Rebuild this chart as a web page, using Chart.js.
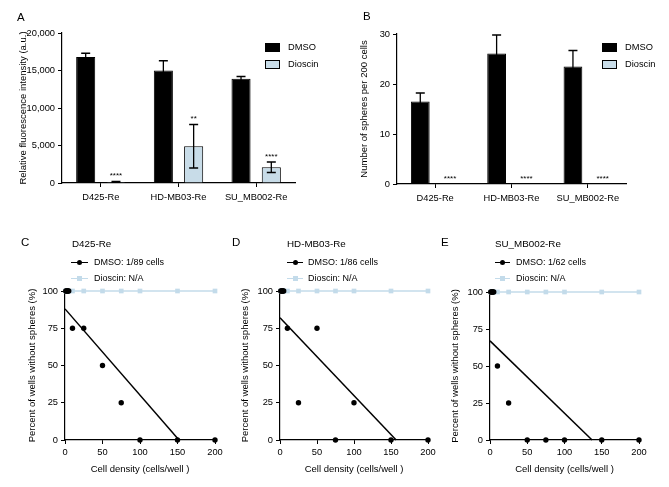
<!DOCTYPE html>
<html><head><meta charset="utf-8">
<script src="https://cdn.jsdelivr.net/npm/chart.js@4.4.0/dist/chart.umd.min.js"></script>
<style>
html,body{margin:0;padding:0;background:#fff;}
#wrap{position:relative;width:669px;height:487px;overflow:hidden;font-family:'Liberation Sans',Arial,sans-serif;color:#000;}
canvas{position:absolute;left:0;top:0;}
.t{position:absolute;white-space:nowrap;line-height:1;}
.box{position:absolute;width:15px;height:9px;border:1px solid #000;box-sizing:border-box;}
.ln{position:absolute;height:0;}
.dot{position:absolute;width:5px;height:5px;border-radius:50%;background:#000;}
.sq{position:absolute;width:5px;height:5px;}
</style></head><body><div id="wrap">
<canvas id="cA" width="669" height="487"></canvas>
<canvas id="cB" width="669" height="487"></canvas>
<canvas id="cC" width="669" height="487"></canvas>
<canvas id="cD" width="669" height="487"></canvas>
<canvas id="cE" width="669" height="487"></canvas>
</div>
<script>
// ---------- data ----------
const barCategories = ['D425-Re', 'HD-MB03-Re', 'SU_MB002-Re'];
const seriesNames = ['DMSO', 'Dioscin'];
const fluorDMSO = [16800, 15000, 13900];
const fluorDMSOErr = [500, 1300, 300];
const fluorDioscin = [150, 4900, 2100];
const fluorDioscinErr = [60, 2900, 700];
const fluorStars = ['****', '**', '****'];
const fluorTicks = [0, 5000, 10000, 15000, 20000];

const spheresDMSO = [16.5, 26.1, 23.5];
const spheresDMSOErr = [1.7, 3.7, 3.2];
const spheresDioscin = [0, 0, 0];
const spheresDioscinErr = [0, 0, 0];
const spheresStars = ['****', '****', '****'];
const spheresTicks = [0, 10, 20, 30];

const cellDensity = [1, 2, 3, 4, 5, 10, 25, 50, 75, 100, 150, 200];
const dmsoD425 = [100, 100, 100, 100, 100, 75, 75, 50, 25, 0, 0, 0];
const dmsoHDMB03 = [100, 100, 100, 100, 100, 75, 25, 75, 0, 25, 0, 0];
const dmsoSUMB002 = [100, 100, 100, 100, 100, 50, 25, 0, 0, 0, 0, 0];
const dioscinPct = [100, 100, 100, 100, 100, 100, 100, 100, 100, 100, 100, 100];
const fitD425 = [[0, 88], [152, 0]];
const fitHDMB03 = [[0, 82], [157, 0]];
const fitSUMB002 = [[0, 67], [137, 0]];
const densityTicks = [0, 50, 100, 150, 200];
const pctTicks = [0, 25, 50, 75, 100];

// ---------- styles ----------
const FONT = "'Liberation Sans', Arial, sans-serif";
const DIO_FILL = '#c8dce8';
const DIO_LINE = '#c3dbea';
Chart.defaults.font.family = FONT;
Chart.defaults.color = '#000';
const W = 669, H = 487;
const TICK_FS = 9.3, TITLE_FS = 9.5;

const errorPlugin = {
  id: 'errbars',
  afterDatasetsDraw(chart) {
    const ctx = chart.ctx, ys = chart.scales.y;
    chart.data.datasets.forEach((ds, di) => {
      if (!ds.errors) return;
      const meta = chart.getDatasetMeta(di);
      meta.data.forEach((bar, i) => {
        const v = ds.data[i], e = ds.errors[i], x = bar.x;
        const yt = ys.getPixelForValue(v + e), yb = ys.getPixelForValue(Math.max(v - e, 0));
        ctx.save();
        ctx.strokeStyle = '#000'; ctx.lineWidth = 1.3;
        if (e > 0) {
          ctx.beginPath();
          ctx.moveTo(x, yt); ctx.lineTo(x, yb);
          ctx.moveTo(x - 4.5, yt); ctx.lineTo(x + 4.5, yt);
          ctx.moveTo(x - 4.5, yb); ctx.lineTo(x + 4.5, yb);
          ctx.stroke();
        }
        if (ds.stars) {
          ctx.fillStyle = '#000';
          ctx.font = '8px ' + FONT;
          ctx.textAlign = 'center'; ctx.textBaseline = 'alphabetic';
          ctx.fillText(ds.stars[i], x, yt - 3.4);
        }
        ctx.restore();
      });
    });
  }
};

function barChart(id, dmso, dmsoErr, dio, dioErr, stars, ticks, yTitle, area, titleX) {
  const lh = TITLE_FS * 1.2;
  const padLeft = titleX - lh / 2 - 1;
  const xH = 22;
  new Chart(document.getElementById(id), {
    type: 'bar',
    data: {
      labels: barCategories,
      datasets: [
        { label: seriesNames[0], data: dmso, errors: dmsoErr, backgroundColor: '#000', borderColor: '#000', borderWidth: 1, categoryPercentage: 0.78, barPercentage: 0.63 },
        { label: seriesNames[1], data: dio, errors: dioErr, stars: stars, backgroundColor: DIO_FILL, borderColor: '#000', borderWidth: 1, categoryPercentage: 0.78, barPercentage: 0.63 }
      ]
    },
    options: {
      responsive: false, animation: false, events: [],
      layout: { padding: { left: padLeft, top: area.top, right: W - area.right, bottom: H - area.bottom - xH } },
      plugins: { legend: { display: false }, tooltip: { enabled: false } },
      scales: {
        x: {
          offset: true,
          grid: { display: true, drawOnChartArea: false, drawTicks: true, tickLength: 4, offset: false, color: '#000', lineWidth: 1 },
          border: { display: true, color: '#000', width: 1.2 },
          ticks: { font: { size: TICK_FS }, color: '#000', padding: 5, maxRotation: 0, autoSkip: false },
          afterFit(s) { s.height = xH; }
        },
        y: {
          min: ticks[0], max: ticks[ticks.length - 1],
          afterBuildTicks(s) { s.ticks = ticks.map(v => ({ value: v })); },
          grid: { display: true, drawOnChartArea: false, drawTicks: true, tickLength: 4, color: '#000', lineWidth: 1 },
          border: { display: true, color: '#000', width: 1.2 },
          ticks: { font: { size: TICK_FS }, color: '#000', padding: 3 },
          title: { display: true, text: yTitle, font: { size: TITLE_FS }, color: '#000', padding: { top: 1, bottom: 0 } },
          afterFit(s) { s.width = area.left - padLeft; }
        }
      }
    },
    plugins: [errorPlugin]
  });
}

function ldaChart(id, dmso, fit, area, titleX) {
  const lh = TITLE_FS * 1.2;
  const padLeft = titleX - lh / 2 - 1;
  const xH = 35;
  new Chart(document.getElementById(id), {
    type: 'scatter',
    data: {
      datasets: [
        { label: 'DMSO', data: cellDensity.map((x, i) => ({ x: x, y: dmso[i] })), showLine: false, pointRadius: 2.7, pointBackgroundColor: '#000', pointBorderColor: '#000', pointBorderWidth: 0, clip: false },
        { label: 'Dioscin', data: cellDensity.map((x, i) => ({ x: x, y: dioscinPct[i] })), showLine: true, borderColor: DIO_LINE, borderWidth: 1.3, pointStyle: 'rect', pointRadius: 3.3, pointBackgroundColor: DIO_LINE, pointBorderWidth: 0, clip: false },
        { label: 'fit', data: fit.map(p => ({ x: p[0], y: p[1] })), showLine: true, borderColor: '#000', borderWidth: 1.5, pointRadius: 0, clip: false }
      ]
    },
    options: {
      responsive: false, animation: false, events: [],
      layout: { padding: { left: padLeft, top: area.top, right: W - area.right, bottom: H - area.bottom - xH } },
      plugins: { legend: { display: false }, tooltip: { enabled: false } },
      scales: {
        x: {
          type: 'linear', min: densityTicks[0], max: densityTicks[densityTicks.length - 1],
          afterBuildTicks(s) { s.ticks = densityTicks.map(v => ({ value: v })); },
          grid: { display: true, drawOnChartArea: false, drawTicks: true, tickLength: 4, color: '#000', lineWidth: 1 },
          border: { display: true, color: '#000', width: 1.2 },
          ticks: { font: { size: TICK_FS }, color: '#000', padding: 3, maxRotation: 0 },
          title: { display: true, text: 'Cell density (cells/well )', font: { size: TITLE_FS }, color: '#000', padding: { top: 0, bottom: 0 } },
          afterFit(s) { s.height = xH; }
        },
        y: {
          type: 'linear', min: pctTicks[0], max: pctTicks[pctTicks.length - 1],
          afterBuildTicks(s) { s.ticks = pctTicks.map(v => ({ value: v })); },
          grid: { display: true, drawOnChartArea: false, drawTicks: true, tickLength: 4, color: '#000', lineWidth: 1 },
          border: { display: true, color: '#000', width: 1.2 },
          ticks: { font: { size: TICK_FS }, color: '#000', padding: 3 },
          title: { display: true, text: 'Percent of wells without spheres (%)', font: { size: TITLE_FS }, color: '#000', padding: { top: 1, bottom: 0 } },
          afterFit(s) { s.width = area.left - padLeft; }
        }
      }
    }
  });
}

barChart('cA', fluorDMSO, fluorDMSOErr, fluorDioscin, fluorDioscinErr, fluorStars, fluorTicks,
  'Relative fluorescence intensity (a.u.)', { left: 62, right: 295, top: 33, bottom: 183 }, 23);
barChart('cB', spheresDMSO, spheresDMSOErr, spheresDioscin, spheresDioscinErr, spheresStars, spheresTicks,
  'Number of spheres per 200 cells', { left: 397, right: 626, top: 34, bottom: 184 }, 364);
ldaChart('cC', dmsoD425, fitD425, { left: 65, right: 215, top: 291, bottom: 440 }, 32);
ldaChart('cD', dmsoHDMB03, fitHDMB03, { left: 280, right: 428, top: 291, bottom: 440 }, 245);
ldaChart('cE', dmsoSUMB002, fitSUMB002, { left: 490, right: 639, top: 292, bottom: 440 }, 455);

// ---------- HTML text / legends ----------
const wrap = document.getElementById('wrap');
function txt(s, x, cy, fs) {
  const d = document.createElement('div');
  d.className = 't'; d.textContent = s;
  d.style.left = x + 'px'; d.style.top = (cy - 0.49 * fs) + 'px'; d.style.fontSize = fs + 'px';
  wrap.appendChild(d); return d;
}
function el(cls, x, y, w, h, css) {
  const d = document.createElement('div');
  d.className = cls; d.style.left = x + 'px'; d.style.top = y + 'px';
  if (w != null) d.style.width = w + 'px';
  if (h != null) d.style.height = h + 'px';
  Object.assign(d.style, css || {});
  wrap.appendChild(d); return d;
}
// panel letters
txt('A', 17, 18, 11.5); txt('B', 363, 17, 11.5);
txt('C', 21, 243, 11.5); txt('D', 232, 243, 11.5); txt('E', 441, 243, 11.5);
// bar legends
[[265, 288], [602, 625]].forEach(([bx, tx]) => {
  el('box', bx, 43, 15, 9, { background: '#000' });
  el('box', bx, 60, 15, 9, { background: DIO_FILL });
  txt(seriesNames[0], tx, 47.5, 9.3);
  txt(seriesNames[1], tx, 64.5, 9.3);
});
// line chart titles & legends
const ldaTitles = ['D425-Re', 'HD-MB03-Re', 'SU_MB002-Re'];
const ldaDmsoLabels = ['DMSO: 1/89 cells', 'DMSO: 1/86 cells', 'DMSO: 1/62 cells'];
const ldaLegendX = [[72, 71, 88, 94], [287, 287, 303, 308], [495, 495, 510, 516]];
ldaLegendX.forEach(([tx, l0, l1, lt], i) => {
  txt(ldaTitles[i], tx, 244, 9.8);
  el('ln', l0, 261.5, l1 - l0, null, { borderTop: '1.5px solid #000' });
  el('dot', (l0 + l1) / 2 - 2.5, 259.8, null, null);
  txt(ldaDmsoLabels[i], lt, 262, 9);
  el('ln', l0, 277.5, l1 - l0, null, { borderTop: '1.3px solid ' + DIO_LINE });
  el('sq', (l0 + l1) / 2 - 2.5, 275.8, null, null, { background: DIO_LINE });
  txt('Dioscin: N/A', lt, 278, 9);
});
</script>
</body></html>
